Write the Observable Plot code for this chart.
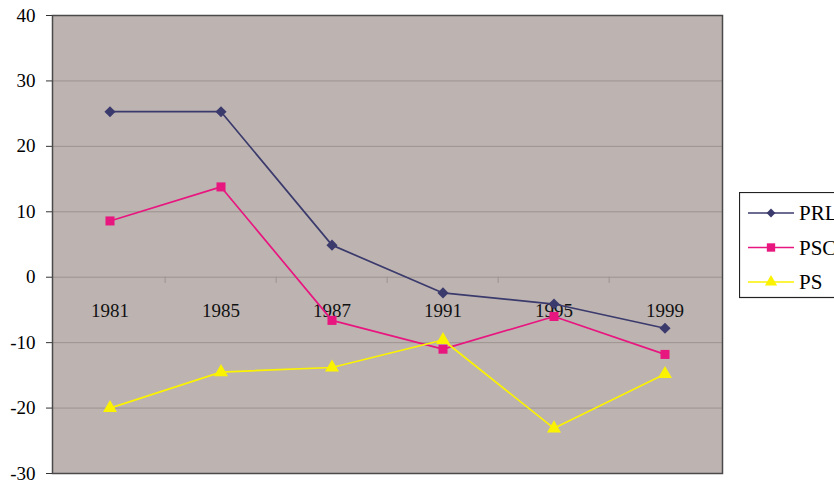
<!DOCTYPE html>
<html><head><meta charset="utf-8">
<script src="https://cdn.jsdelivr.net/npm/d3@7"></script>
<script src="https://cdn.jsdelivr.net/npm/@observablehq/plot@0.6"></script>
<style>
html,body{margin:0;padding:0;background:#fff;overflow:hidden;}
#wrap{position:relative;width:834px;height:485px;overflow:hidden;}
#legend{position:absolute;left:739px;top:192px;}
</style></head><body><div id="wrap"></div>
<script>
const years = ["1981","1985","1987","1991","1995","1999"];
const prl = [25.3, 25.3, 4.9, -2.4, -4.1, -7.8];
const psc = [8.6, 13.8, -6.6, -11.0, -6.0, -11.8];
const ps  = [-20.0, -14.5, -13.8, -9.6, -23.1, -14.8];
const seriesNames = ["PRL","PSC","PS"];
const yTicks = [-30,-20,-10,0,10,20,30,40];
const colors = ["#3b3a6c","#e8167f","#fbf200"];
const symbols = ["diamond2","square","triangle"];
const symbolR = [5.0, 5.1, 5.2];
const FONT = "Liberation Serif, Times New Roman, serif";

const rows = [];
[prl,psc,ps].forEach((vals,s)=> vals.forEach((v,i)=> rows.push({series: seriesNames[s], year: years[i], value: v, r: symbolR[s]})));

const W=834,H=485, ml=52, mr=112, mt=15, mb=12;
const bw = (W-ml-mr)/years.length;

const chart = Plot.plot({
  width: W, height: H, marginLeft: ml, marginRight: mr, marginTop: mt, marginBottom: mb,
  style: {fontFamily: FONT, fontSize: "19px", background: "transparent", color: "#000", overflow: "visible"},
  x: {type: "band", domain: years, padding: 0, axis: null},
  y: {domain: [-30, 40], axis: null},
  r: {type: "identity"},
  color: {domain: seriesNames, range: colors},
  symbol: {domain: seriesNames, range: symbols},
  marks: [
    Plot.frame({fill: "#bdb4b2", stroke: null}),
    Plot.gridY(yTicks, {stroke: "#9c9391", strokeOpacity: 1, strokeWidth: 1}),
    Plot.axisY(yTicks, {anchor: "left", tickSize: 6, tickPadding: 11, tickFormat: d => String(d), label: null, fontSize: 19, fontFamily: FONT, stroke: "#333"}),
    Plot.ruleX(years.slice(1), {x: d => d, y1: 0, y2: -0.95, dx: -bw/2, stroke: "#9c9391"}),
    Plot.text(years, {x: d => d, y: 0, dy: 34, text: d => d, fontSize: 19, fontFamily: FONT, fill: "#111"}),
    Plot.line(rows, {x: "year", y: "value", z: "series", stroke: "series", strokeWidth: 1.7}),
    Plot.dot(rows, {x: "year", y: "value", symbol: "series", fill: "series", r: "r"}),
    Plot.frame({stroke: "#4a4a4a", strokeWidth: 1.5})
  ]
});
document.getElementById("wrap").appendChild(chart);

// Legend
const lg = d3.select("#wrap").append("svg").attr("id","legend").attr("width", 100).attr("height", 108);
lg.append("rect").attr("x",0.5).attr("y",0.5).attr("width",130).attr("height",105).attr("fill","#fff").attr("stroke","#222").attr("stroke-width",1.2);
const sizes = [50, 70, 64];
const legSym = [d3.symbolDiamond2, d3.symbolSquare, d3.symbolTriangle];
const ent = lg.selectAll("g").data(seriesNames).join("g").attr("transform",(d,i)=>`translate(0,${21 + i*34.5})`);
ent.append("line").attr("x1",9).attr("x2",55).attr("stroke",(d,i)=>colors[i]).attr("stroke-width",1.7);
ent.append("path").attr("transform","translate(32,0)").attr("d",(d,i)=>d3.symbol(legSym[i], sizes[i])()).attr("fill",(d,i)=>colors[i]);
ent.append("text").attr("x",60).attr("dy","0.35em").attr("font-family", FONT).attr("font-size",21).text(d=>d);
</script>
</body></html>
